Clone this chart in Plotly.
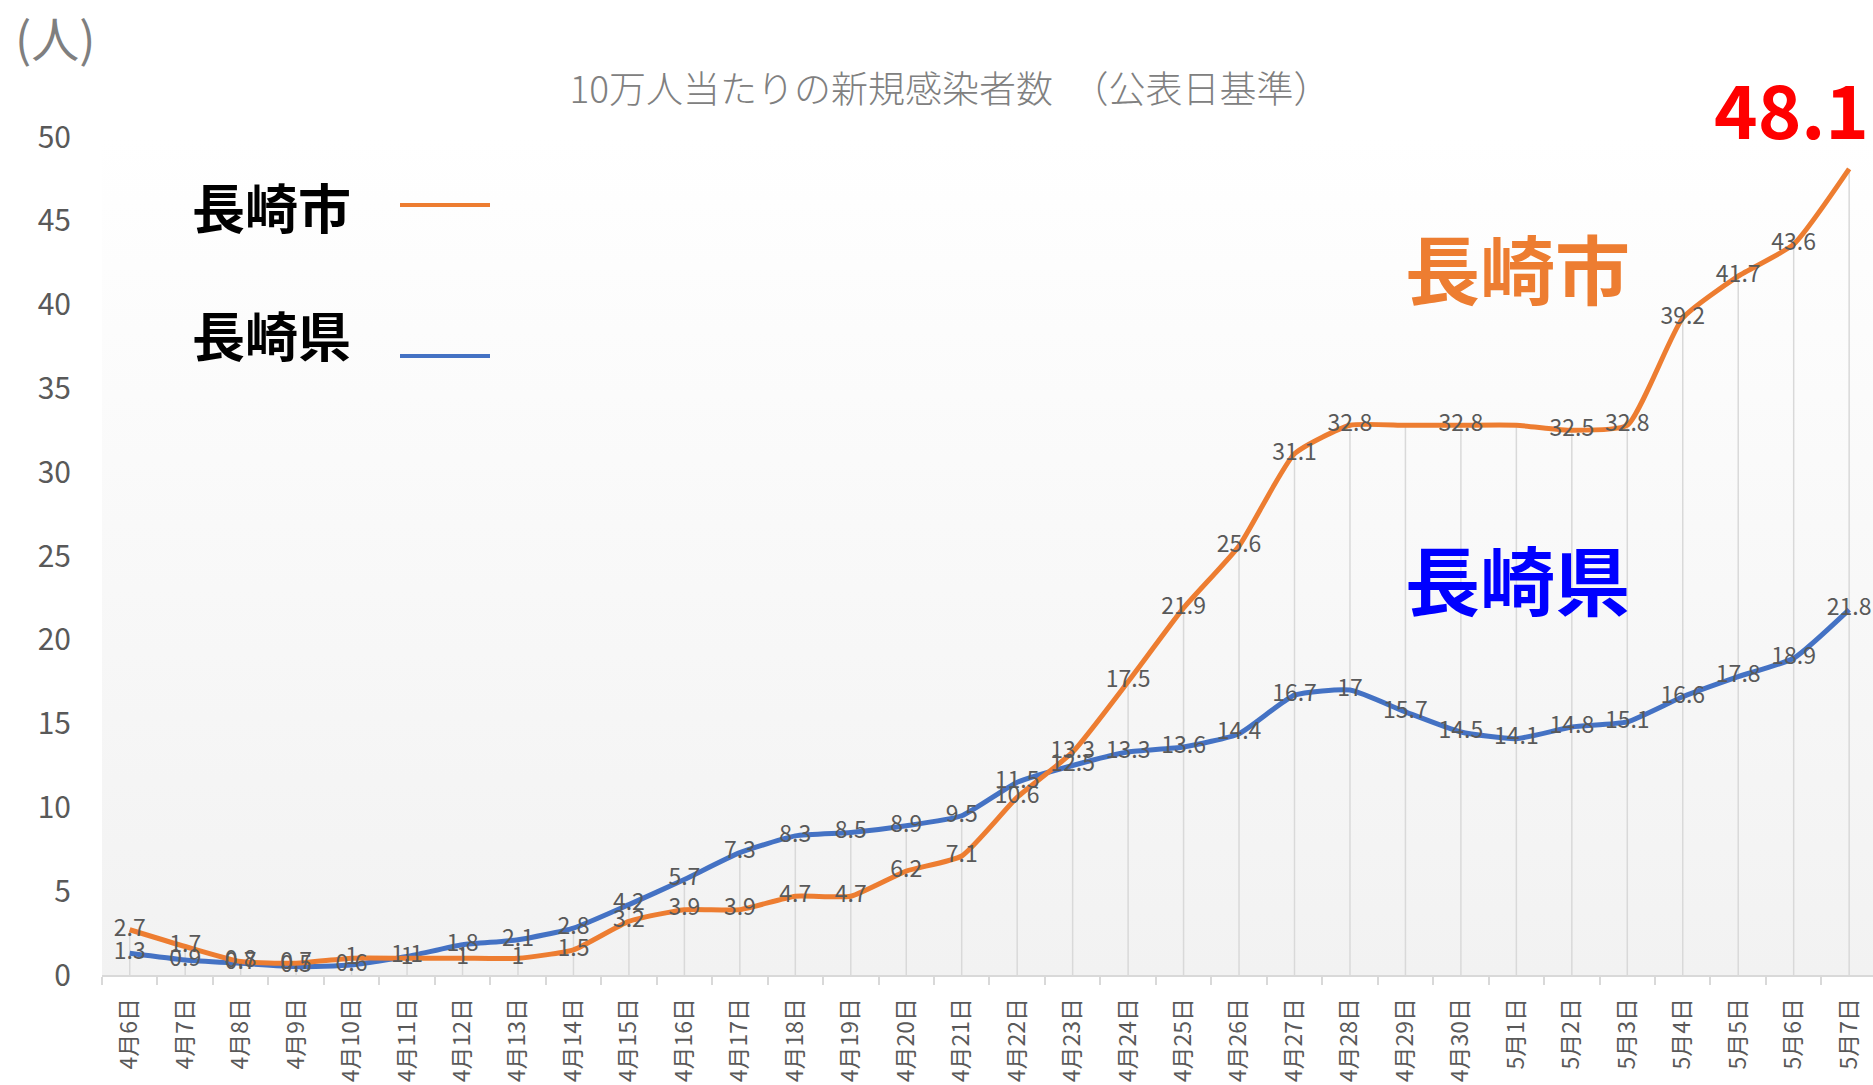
import plotly.graph_objects as go

# 4/6 - 5/7, per 100k new cases (by announcement date)
dates = [
    "4月6日", "4月7日", "4月8日", "4月9日", "4月10日", "4月11日", "4月12日", "4月13日",
    "4月14日", "4月15日", "4月16日", "4月17日", "4月18日", "4月19日", "4月20日", "4月21日",
    "4月22日", "4月23日", "4月24日", "4月25日", "4月26日", "4月27日", "4月28日", "4月29日",
    "4月30日", "5月1日", "5月2日", "5月3日", "5月4日", "5月5日", "5月6日", "5月7日",
]
city = [2.7, 1.7, 0.8, 0.7, 1, 1, 1, 1, 1.5, 3.2, 3.9, 3.9, 4.7, 4.7, 6.2, 7.1,
        10.6, 13.3, 17.5, 21.9, 25.6, 31.1, 32.8, 32.8, 32.8, 32.8, 32.5, 32.8, 39.2, 41.7, 43.6, 48.1]
pref = [1.3, 0.9, 0.7, 0.5, 0.6, 1.1, 1.8, 2.1, 2.8, 4.2, 5.7, 7.3, 8.3, 8.5, 8.9, 9.5,
        11.5, 12.5, 13.3, 13.6, 14.4, 16.7, 17, 15.7, 14.5, 14.1, 14.8, 15.1, 16.6, 17.8, 18.9, 21.8]
city_hidden = [23, 25, 31]   # labels not shown in the original
y_ticks = [0, 5, 10, 15, 20, 25, 30, 35, 40, 45, 50]

ORANGE = "#ED7D31"
BLUE = "#4472C4"
GRAY = "#595959"
CJK = "Noto Sans CJK JP"

W, H = 1873, 1085
L, R, T, B = 102, 0, 137, 110
x_range = [-0.5, 31.43]
y_range = [0, 50]


def px(xp):
    return (xp - L) / (W - L - R)


def py(yp):
    return (H - B - yp) / (H - T - B)


city_text = ["" if i in city_hidden else f"{v:g}" for i, v in enumerate(city)]
pref_text = [f"{v:g}" for v in pref]

# drop lines from the higher point down to the axis
drop_x, drop_y = [], []
for d, a, b in zip(dates, city, pref):
    drop_x += [d, d, None]
    drop_y += [0, max(a, b), None]

fig = go.Figure()

# plot area gradient background (on the hidden bottom axis)
fig.add_trace(go.Scatter(
    x=[x_range[0], x_range[1], x_range[1], x_range[0], x_range[0]],
    y=[y_range[0], y_range[0], y_range[1], y_range[1], y_range[0]],
    xaxis="x", mode="none", fill="toself",
    fillgradient=dict(type="vertical", colorscale=[[0, "#f2f2f2"], [1, "#ffffff"]]),
    hoverinfo="skip", showlegend=False,
))

fig.add_trace(go.Scatter(
    x=drop_x, y=drop_y, xaxis="x2", mode="lines",
    line=dict(color="#d9d9d9", width=1.5),
    hoverinfo="skip", showlegend=False,
))

fig.add_trace(go.Scatter(
    x=dates, y=pref, xaxis="x2", mode="lines", name="長崎県",
    line=dict(color=BLUE, width=5, shape="spline", smoothing=0.5),
    showlegend=False,
))
fig.add_trace(go.Scatter(
    x=dates, y=city, xaxis="x2", mode="lines", name="長崎市",
    line=dict(color=ORANGE, width=5, shape="spline", smoothing=0.5),
    showlegend=False,
))

for txt, vals in [(pref_text, pref), (city_text, city)]:
    fig.add_trace(go.Scatter(
        x=dates, y=vals, xaxis="x2", mode="text", text=txt,
        textposition="middle center",
        textfont=dict(family=CJK, size=23, color=GRAY),
        hoverinfo="skip", showlegend=False,
    ))

annotations = [
    dict(text="(人)", x=px(55), y=py(36), font=dict(family=CJK, size=48, color="#7f7f7f")),
    dict(text="<b>長崎市</b>", x=px(271), y=py(206), font=dict(family=CJK, size=53, color="#000000")),
    dict(text="<b>長崎県</b>", x=px(271), y=py(334), font=dict(family=CJK, size=53, color="#000000")),
    dict(text="<b>長崎市</b>", x=px(1517), y=py(266), font=dict(family=CJK, size=75, color=ORANGE)),
    dict(text="<b>長崎県</b>", x=px(1517), y=py(577), font=dict(family=CJK, size=75, color="#0000FF")),
]
for a in annotations:
    a.update(xref="paper", yref="paper", showarrow=False, xanchor="center", yanchor="middle")

annotations.append(dict(
    text=f"<b>{city[-1]:g}</b>", x=dates[-1], y=city[-1], xref="x2", yref="y",
    xshift=22, yshift=62, showarrow=False, xanchor="right", yanchor="middle",
    font=dict(family=CJK, size=74, color="#FF0000"),
))

shapes = [
    dict(type="line", xref="paper", yref="paper", x0=px(400), x1=px(490), y0=py(205), y1=py(205),
         line=dict(color=ORANGE, width=4)),
    dict(type="line", xref="paper", yref="paper", x0=px(400), x1=px(490), y0=py(356), y1=py(356),
         line=dict(color=BLUE, width=4)),
]

fig.update_layout(
    width=W, height=H,
    margin=dict(l=L, r=R, t=T, b=B),
    paper_bgcolor="#ffffff",
    plot_bgcolor="rgba(0,0,0,0)",
    title=dict(
        text="10万人当たりの新規感染者数　（公表日基準）",
        x=950 / W, xref="container", xanchor="center",
        y=1 - 90 / H, yref="container", yanchor="middle",
        font=dict(family=CJK, size=37, color="#808080", weight=300),
    ),
    xaxis=dict(range=x_range, visible=False, fixedrange=True),
    xaxis2=dict(
        type="category", categoryorder="array", categoryarray=dates,
        overlaying="x", anchor="y", side="bottom",
        range=x_range, showgrid=False, zeroline=False,
        showline=True, linecolor="#d9d9d9", linewidth=1.5,
        ticks="outside", tickson="boundaries", ticklen=8, tickcolor="#d9d9d9", tickwidth=1.5,
        tickangle=-90, tickfont=dict(family=CJK, size=23, color=GRAY), ticklabelstandoff=12,
    ),
    yaxis=dict(
        range=y_range, tickvals=y_ticks, showgrid=False, zeroline=False, showline=False,
        tickfont=dict(family=CJK, size=30, color=GRAY), ticklabelstandoff=30,
    ),
    annotations=annotations,
    shapes=shapes,
    showlegend=False,
)

fig.write_html("out.html", config={"displayModeBar": False},
               post_script="document.body.style.margin='0';")
